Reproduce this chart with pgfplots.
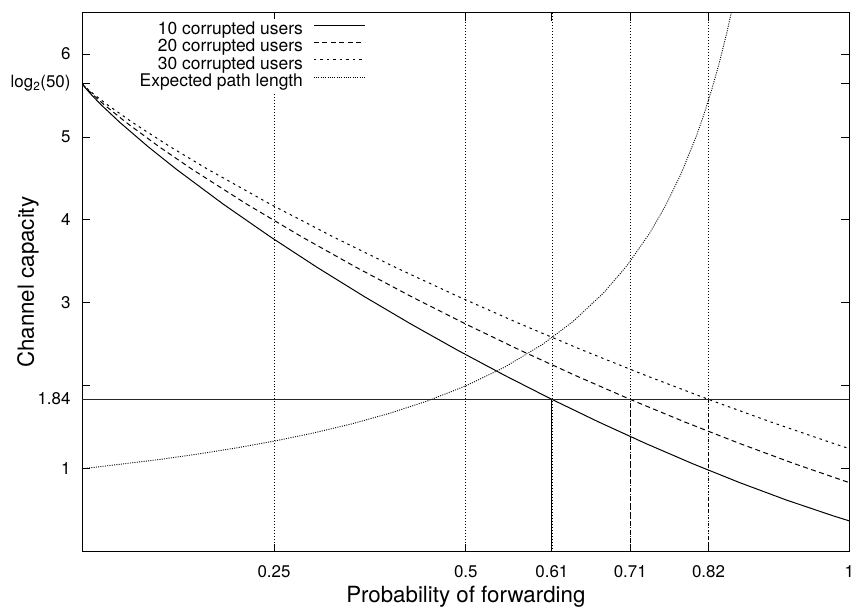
\documentclass[border=0pt]{standalone}
\usepackage{pgfplots}
\pgfplotsset{compat=1.18}
\usepackage{fontspec}
\setmainfont{TeX Gyre Heros}

\begin{document}
\begin{tikzpicture}
\begin{axis}[
  name=ax,
  scale only axis,
  width=770.8bp, height=541.6bp,
  xmin=0, xmax=1, ymin=0, ymax=6.5,
  axis line style={line width=1.4bp},
  every tick/.style={line width=1bp, black},
  major tick length=8bp,
  tick align=inside,
  xtick={0.25,0.5,0.612245,0.714286,0.816327,1},
  xticklabels={0.25,0.5,0.61,0.71,0.82,1},
  ytick={1,1.84,2,3,4,5,5.643856,6},
  yticklabels={1,1.84,,3,4,5,log\textsubscript{2}(50),6},
  minor tick num=0,
  xmajorgrids,
  grid style={black, line width=0.8bp, dash pattern=on 1bp off 2bp},
  tick label style={font=\fontsize{17bp}{20bp}\selectfont},
  xticklabel style={inner sep=0pt, yshift=-13.5bp},
  yticklabel style={inner sep=0pt, xshift=-11.6bp},
  xlabel={Probability of forwarding},
  ylabel={Channel capacity},
  label style={font=\fontsize{22.4bp}{26bp}\selectfont},
  xlabel style={at={(axis description cs:0.5,-0.0936)}, anchor=base},
  ylabel style={at={(axis description cs:-0.0708,0.5)}, anchor=center},
  legend style={at={(axis description cs:0.3716,1)}, anchor=north east, yshift=-6.6bp,
    draw=none, fill=white, inner sep=2bp,
    font=\fontsize{17.5bp}{20bp}\selectfont,
    nodes={inner sep=0.5bp, text height=12.5bp, text depth=4bp},
    column sep=10bp, row sep=0pt},
  legend cell align=right,
  legend plot pos=right,
  legend image code/.code={\draw[#1] (0bp,5bp) -- (51bp,5bp);},
]
\addplot[black, line width=1bp] coordinates {
(0,5.6439) (0.001837,5.6192) (0.004898,5.5838) (0.012245,5.5069) (0.02449,5.3901) (0.04898,5.1770) (0.085714,4.8849) (0.122449,4.6134) (0.183673,4.1918) (0.244898,3.7990) (0.306122,3.4289) (0.367347,3.0782) (0.428571,2.7446) (0.489796,2.4270) (0.55102,2.1245) (0.612245,1.8365) (0.673469,1.5630) (0.734694,1.3041) (0.795918,1.0602) (0.857143,0.8323) (0.918367,0.6215) (0.979592,0.4302) (1,0.3712)
};
\addplot[black, line width=1bp, dash pattern=on 5bp off 3.5bp] coordinates {
(0,5.6439) (0.002143,5.6192) (0.005714,5.5838) (0.014286,5.5069) (0.028571,5.3901) (0.057143,5.1770) (0.1,4.8849) (0.142857,4.6134) (0.214286,4.1918) (0.285714,3.7990) (0.357143,3.4289) (0.428571,3.0782) (0.5,2.7446) (0.571429,2.4270) (0.642857,2.1245) (0.714286,1.8365) (0.785714,1.5630) (0.857143,1.3041) (0.928571,1.0602) (1,0.8323)
};
\addplot[black, line width=1bp, dash pattern=on 2.5bp off 4bp] coordinates {
(0,5.6439) (0.002449,5.6192) (0.006531,5.5838) (0.016327,5.5069) (0.032653,5.3901) (0.065306,5.1770) (0.114286,4.8849) (0.163265,4.6134) (0.244898,4.1918) (0.326531,3.7990) (0.408163,3.4289) (0.489796,3.0782) (0.571429,2.7446) (0.653061,2.4270) (0.734694,2.1245) (0.816327,1.8365) (0.897959,1.5630) (0.979592,1.3041) (1,1.2417)
};
\addplot[black, line width=0.9bp, dash pattern=on 1bp off 1.3bp] coordinates {
(0,1) (0.1,1.1111) (0.15,1.1765) (0.2,1.25) (0.25,1.3333) (0.3,1.4286) (0.35,1.5385) (0.4,1.6667) (0.45,1.8182) (0.5,2) (0.55,2.2222) (0.6,2.5) (0.64,2.7778) (0.68,3.125) (0.71,3.4483) (0.74,3.8462) (0.76,4.1667) (0.78,4.5455) (0.8,5) (0.81,5.2632) (0.82,5.5556) (0.83,5.8824) (0.84,6.25) (0.85,6.6667)
};
\legend{10 corrupted users, 20 corrupted users, 30 corrupted users, Expected path length}
\addplot[forget plot, black!85, line width=1bp] coordinates {(0,1.8365) (1,1.8365)};
\addplot[forget plot, black, line width=1bp] coordinates {(0.612245,0) (0.612245,1.8365)};
\addplot[forget plot, black, line width=1bp, dash pattern=on 5bp off 3.5bp] coordinates {(0.714286,0) (0.714286,1.8365)};
\addplot[forget plot, black, line width=1bp, dash pattern=on 2.5bp off 4bp] coordinates {(0.816327,0) (0.816327,1.8365)};
\end{axis}
\pgfresetboundingbox
\path[use as bounding box] ([xshift=-82.6bp,yshift=-55.7bp]ax.south west) rectangle ([xshift=6.6bp,yshift=12.7bp]ax.north east);
\end{tikzpicture}
\end{document}
